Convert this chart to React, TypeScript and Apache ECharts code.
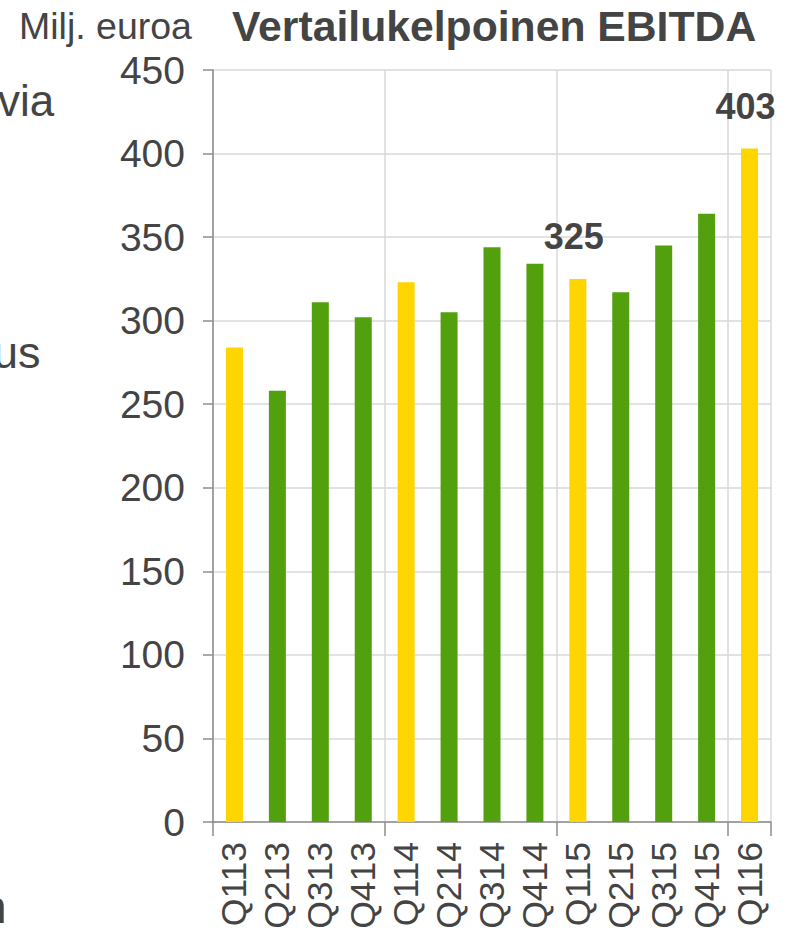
import React, { useEffect, useRef } from "react";
import * as echarts from "echarts";

const categories = ["Q113", "Q213", "Q313", "Q413", "Q114", "Q214", "Q314", "Q414", "Q115", "Q215", "Q315", "Q415", "Q116"];
const ebitda = [284, 258, 311, 302, 323, 305, 344, 334, 325, 317, 345, 364, 403];
const isQ1 = [true, false, false, false, true, false, false, false, true, false, false, false, true];
const labelled = [false, false, false, false, false, false, false, false, true, false, false, false, true];

const YELLOW = "#FFD500";
const GREEN = "#52A00E";
const TEXT = "#444444";
const FONT = "Liberation Sans, Arial, sans-serif";

export default function App() {
  const ref = useRef<HTMLDivElement>(null);
  useEffect(() => {
    if (!ref.current) return;
    const chart = echarts.init(ref.current, null, { renderer: "svg" });
    chart.setOption({
      animation: false,
      backgroundColor: "#ffffff",
      textStyle: { fontFamily: FONT },
      grid: { left: 213, right: 20, top: 70, bottom: 110, containLabel: false, outerBoundsMode: "none" },
      xAxis: {
        type: "category",
        data: categories,
        boundaryGap: true,
        axisLine: { show: true, lineStyle: { color: "#8c8c8c", width: 1.5 } },
        axisTick: { show: true, interval: 3, length: 14, lineStyle: { color: "#8c8c8c", width: 1.5 } },
        splitLine: { show: true, interval: 3, lineStyle: { color: "#d9d9d9", width: 1.5 } },
        axisLabel: {
          interval: 0,
          rotate: 90,
          margin: 20,
          fontSize: 35.5,
          color: TEXT,
          fontFamily: FONT,
        },
      },
      yAxis: {
        type: "value",
        min: 0,
        max: 450,
        interval: 50,
        axisLine: { show: true, lineStyle: { color: "#8c8c8c", width: 1.5 } },
        axisTick: { show: true, length: 10, lineStyle: { color: "#8c8c8c", width: 1.5 } },
        splitLine: { show: true, lineStyle: { color: "#d9d9d9", width: 1.5 } },
        axisLabel: { fontSize: 39, color: TEXT, margin: 28, fontFamily: FONT },
      },
      series: [
        {
          type: "bar",
          barWidth: 17,
          data: ebitda.map((v, i) => ({
            value: v,
            itemStyle: { color: isQ1[i] ? YELLOW : GREEN },
            label: {
              show: labelled[i],
              position: "top",
              distance: 24,
              offset: [-4, 0],
              fontSize: 36,
              fontWeight: "bold",
              color: TEXT,
              fontFamily: FONT,
            },
          })),
        },
      ],
      graphic: [
        {
          type: "text",
          left: 19,
          top: 7,
          style: { text: "Milj. euroa", fontSize: 37.5, fill: TEXT, fontFamily: FONT },
        },
        {
          type: "text",
          left: 232,
          top: 4,
          style: { text: "Vertailukelpoinen EBITDA", fontSize: 42.7, fontWeight: "bold", fill: TEXT, fontFamily: FONT },
        },
        {
          type: "text",
          x: -2,
          y: 78,
          style: { text: "via", fontSize: 44, fill: TEXT, fontFamily: FONT },
        },
        {
          type: "text",
          x: -7,
          y: 330,
          style: { text: "us", fontSize: 45, fill: TEXT, fontFamily: FONT },
        },
        {
          type: "text",
          x: -19,
          y: 884,
          style: { text: "n", fontSize: 46, fill: TEXT, fontFamily: FONT },
        },
      ],
    });
    return () => chart.dispose();
  }, []);
  return (
    <div
      ref={ref}
      style={{ position: "absolute", left: 0, top: 0, width: 791, height: 932, background: "#fff" }}
    />
  );
}
